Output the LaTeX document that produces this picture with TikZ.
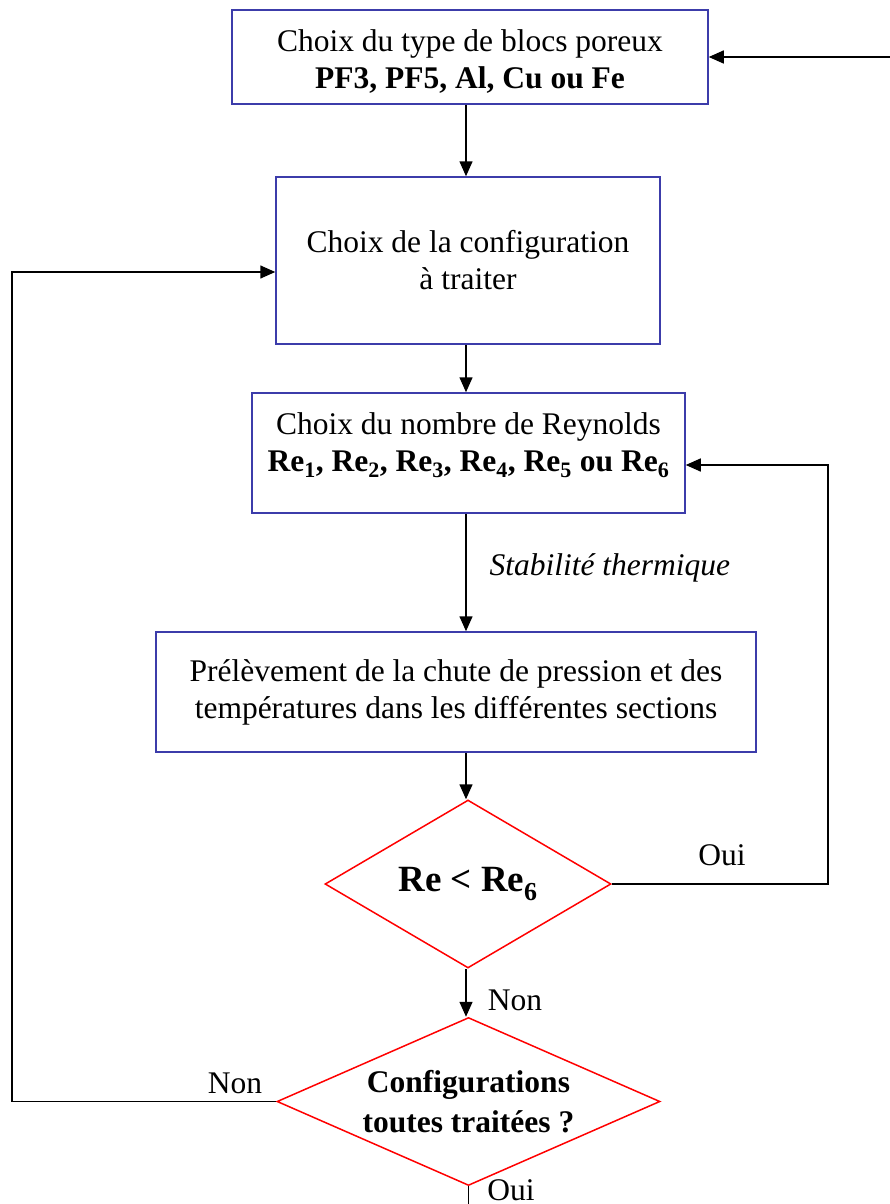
\documentclass[tikz,border=0pt]{standalone}
\usepackage{fontspec}
\setmainfont{Liberation Serif}
\usetikzlibrary{arrows.meta, shapes.geometric}
\definecolor{boxblue}{RGB}{60,60,170}
\definecolor{decred}{RGB}{255,0,0}

\begin{document}
\begin{tikzpicture}[
    x=1pt, y=-1pt,
    every node/.style={font=\fontsize{31.5}{37}\selectfont, align=center},
    >={Triangle[length=15pt, width=13pt]},
    flowbox/.style={draw=boxblue, line width=1.5pt, inner sep=0pt},
    decision/.style={diamond, draw=decred, line width=1.5pt, inner sep=0pt},
    link/.style={line width=1.5pt},
]
\useasboundingbox (0,0) rectangle (890,1204);

% === Boxes ===
\node[flowbox, minimum width=476pt, minimum height=94pt, text height=68pt] (type) at (470,57)
    {Choix du type de blocs poreux\\\textbf{PF3, PF5, Al, Cu ou Fe}};
\node[flowbox, minimum width=384pt, minimum height=167pt] (config) at (468,260.5)
    {Choix de la configuration\\à traiter};
\node[flowbox, minimum width=433pt, minimum height=120pt, text depth=22pt] (reyn) at (468.5,453)
    {Choix du nombre de Reynolds\\\textbf{Re\textsubscript{1}, Re\textsubscript{2}, Re\textsubscript{3}, Re\textsubscript{4}, Re\textsubscript{5} ou Re\textsubscript{6}}};
\node[flowbox, minimum width=600pt, minimum height=120pt] (mesure) at (456,692)
    {Prélèvement de la chute de pression et des\\températures dans les différentes sections};

% === Decisions ===
\node[decision, minimum width=286pt, minimum height=168pt,
    label={[font=\fontsize{37}{40}\selectfont\bfseries]center:Re < Re\textsubscript{6}}]
    (testre) at (468,884) {};
\node[decision, minimum width=383pt, minimum height=168pt,
    label={[font=\fontsize{31.5}{40}\selectfont\bfseries]center:Configurations\\toutes traitées ?}]
    (testconf) at (468.5,1101.5) {};

% === Helper coordinates ===
\coordinate (axe) at (466,0);
\coordinate (retour) at (890,57);
\coordinate (boucleR) at (828,884);
\coordinate (boucleL) at (12,1101.5);
\coordinate (fin) at (468.5,1204);

% === Main flow ===
\draw[link, ->] (type.south -| axe) -- (config.north -| axe);
\draw[link, ->] (config.south -| axe) -- (reyn.north -| axe);
\draw[link, ->] (reyn.south -| axe) -- (mesure.north -| axe);
\node[anchor=west, font=\fontsize{31.5}{37}\selectfont\itshape] (stab) at (486,568) {Stabilité thermique};
\draw[link, ->] (mesure.south -| axe) -- (testre.north -| axe);
\draw[link, ->] (testre.south -| axe) -- (testconf.north -| axe);
\node (non1) at (515,1000) {Non};
\draw[link] (testconf.south) -- (fin);
\node (oui2) at (511,1190) {Oui};

% === Loops ===
\draw[link, ->] (retour) -- (type.east);
\draw[link, ->] (testre.east) -- (boucleR) |- ([yshift=-12pt]reyn.east);
\node (oui1) at (722,855) {Oui};
\draw[link, ->] (testconf.west) -- (boucleL) |- ([yshift=-11.5pt]config.west);
\node (non2) at (235,1083) {Non};

\end{tikzpicture}
\end{document}
